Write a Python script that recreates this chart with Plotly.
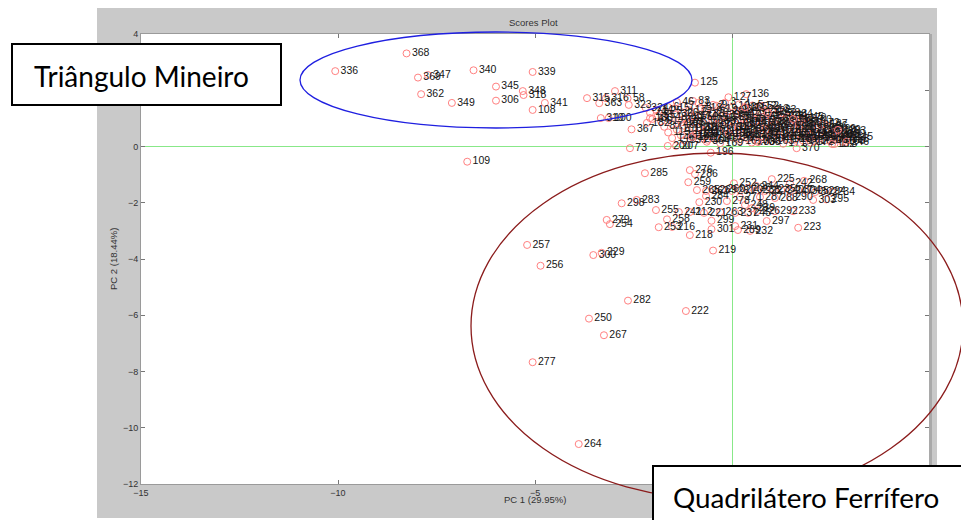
import plotly.graph_objects as go

# ---- Triângulo Mineiro / upper-left and named upper points ----
tm_x = [-8.26, -10.07, -7.97, -7.72, -6.56, -7.89, -7.11, -5.99, -5.99, -5.06, -5.31, -5.29,
        -5.06, -4.75, -6.72, -2.97, -3.68, -3.20, -3.37, -2.65, -2.62, -2.19, -3.33, -3.13,
        -2.55, -2.59, -1.63, -1.42, -1.02, -0.64, -0.54, -0.94, -0.09, 0.36, -1.40, -0.99,
        0.33, 0.76, 0.91, 1.55, 2.69, 2.90, 2.54, 1.64, 0.66, -2.08, -2.16]
tm_y = [3.31, 2.68, 2.45, 2.54, 2.71, 1.86, 1.55, 2.13, 1.63, 2.65, 1.97, 1.83,
        1.30, 1.55, -0.54, 1.97, 1.72, 1.72, 1.54, 1.71, 1.48, 1.37, 1.01, 1.01,
        0.61, -0.06, 0.02, 0.02, 0.34, 0.17, -0.22, 2.27, 1.75, 1.86, 1.58, 1.62,
        1.40, 1.44, 1.19, 0.98, 0.59, 0.16, 0.09, -0.06, 0.16, 1.01, 0.84]
tm_id = ["368", "336", "369", "347", "340", "362", "349", "345", "306", "339", "348", "318",
         "108", "341", "109", "311", "315", "316", "363", "58", "323", "324", "310", "100",
         "367", "73", "200", "207", "152", "364", "196", "125", "127", "136", "46", "83",
         "365", "52", "175", "16", "129", "246", "132", "370", "338", "180", "182"]

# ---- dense central cluster ----
core_x = [-0.85, -0.48, -0.18, 0.18, 0.52,
          -1.62, -1.22, -0.80, -0.40, 0.02, 0.32, 0.70, 1.02,
          -1.92, -1.50, -1.08, -0.68, -0.30, 0.10, 0.42, 0.80, 1.20,
          -2.08, -1.70, -1.28, -0.92, -0.52, -0.12, 0.22, 0.58, 0.92, 1.30, 1.62,
          -1.88, -1.42, -1.02, -0.62, -0.22, 0.12, 0.48, 0.82, 1.12, 1.48, 1.90,
          -2.02, -1.58, -1.18, -0.78, -0.38, 0.02, 0.30, 0.68, 1.00, 1.38, 1.72, 2.10,
          -1.80, -1.32, -0.92, -0.50, -0.10, 0.22, 0.60, 0.90, 1.22, 1.60, 1.92, 2.30,
          -1.52, -1.10, -0.70, -0.30, 0.08, 0.40, 0.78, 1.10, 1.48, 1.80, 2.18, 2.50,
          -1.72, -1.22, -0.82, -0.42, -0.02, 0.30, 0.68, 1.00, 1.32, 1.70, 2.02, 2.40, 2.72,
          -1.40, -1.00, -0.60, -0.20, 0.18, 0.50, 0.88, 1.20, 1.58, 1.90, 2.28, 2.60,
          -1.62, -1.12, -0.72, -0.32, 0.10, 0.40, 0.80, 1.10, 1.50, 1.80, 2.12, 2.50, 2.80,
          -1.30, -0.90, -0.50, -0.10, 0.28, 0.60, 1.00, 1.40, 1.70, 2.00, 2.40, 2.70, 3.00,
          -1.52, -1.00, -0.42, 0.00, 0.40, 0.80, 1.20, 1.60, 1.90, 2.20, 2.60, 2.90,
          -1.22, -0.62, 0.20, 0.60, 1.00, 1.40, 1.80, 2.10, 2.50, 2.80,
          -0.30, 0.50, 1.30, 2.00, 2.60,
          -0.95, -0.15, 0.62, 1.25, 1.82,
          -1.28, -0.48, 0.30, 1.02, 1.70, 2.35,
          -0.80, 0.02, 0.80, 1.48, 2.15, 2.82,
          -0.92, -0.08, 0.62, 1.32, 1.98, 2.62,
          -0.85, 0.12, 0.88, 1.58, 2.35]
core_y = [1.55, 1.48, 1.56, 1.50, 1.46,
          1.40, 1.44, 1.38, 1.45, 1.41, 1.36, 1.43, 1.33,
          1.30, 1.34, 1.29, 1.35, 1.31, 1.28, 1.34, 1.27, 1.30,
          1.20, 1.24, 1.18, 1.23, 1.19, 1.25, 1.21, 1.17, 1.24, 1.18, 1.15,
          1.10, 1.14, 1.08, 1.13, 1.09, 1.15, 1.11, 1.07, 1.13, 1.09, 1.03,
          0.98, 1.03, 0.99, 1.04, 1.00, 1.05, 0.97, 1.02, 0.98, 1.03, 0.95, 0.93,
          0.90, 0.94, 0.89, 0.93, 0.88, 0.95, 0.91, 0.87, 0.93, 0.89, 0.86, 0.82,
          0.80, 0.84, 0.79, 0.83, 0.78, 0.85, 0.81, 0.77, 0.82, 0.78, 0.76, 0.72,
          0.70, 0.74, 0.69, 0.73, 0.68, 0.75, 0.71, 0.67, 0.72, 0.68, 0.66, 0.63, 0.60,
          0.60, 0.64, 0.59, 0.63, 0.58, 0.65, 0.61, 0.57, 0.62, 0.58, 0.56, 0.53,
          0.50, 0.54, 0.49, 0.53, 0.48, 0.55, 0.51, 0.47, 0.52, 0.48, 0.46, 0.44, 0.42,
          0.40, 0.44, 0.39, 0.43, 0.38, 0.45, 0.41, 0.37, 0.42, 0.38, 0.36, 0.34, 0.33,
          0.30, 0.34, 0.29, 0.33, 0.28, 0.35, 0.31, 0.27, 0.32, 0.28, 0.26, 0.24,
          0.22, 0.24, 0.19, 0.23, 0.20, 0.25, 0.21, 0.18, 0.22, 0.17,
          0.12, 0.14, 0.10, 0.13, 0.09,
          1.06, 1.08, 1.05, 1.07, 0.99,
          0.86, 0.88, 0.84, 0.87, 0.83, 0.77,
          0.66, 0.68, 0.64, 0.67, 0.61, 0.55,
          0.46, 0.48, 0.44, 0.47, 0.41, 0.38,
          0.26, 0.28, 0.25, 0.24, 0.21]
core_id = [1, 2, 3, 4, 5, 6, 7, 8, 9, 10, 11, 12, 13, 14, 15, 17, 18, 19, 20, 21,
           22, 23, 24, 25, 26, 27, 28, 29, 30, 31, 32, 33, 34, 35, 36, 37, 38, 39, 40, 41,
           42, 43, 44, 45, 47, 48, 49, 50, 51, 53, 54, 55, 56, 57, 59, 60, 61, 62, 63, 64,
           65, 66, 67, 68, 69, 70, 71, 72, 74, 75, 76, 77, 78, 79, 80, 81, 82, 84, 85, 86,
           87, 88, 89, 90, 91, 92, 93, 94, 95, 96, 97, 98, 99, 101, 102, 103, 104, 105, 106, 107,
           110, 111, 112, 113, 114, 115, 116, 117, 118, 119, 120, 121, 122, 123, 124, 126, 128, 130, 131, 133,
           134, 135, 137, 138, 139, 140, 141, 142, 143, 144, 145, 146, 147, 148, 149, 150, 151, 153, 154, 155,
           156, 157, 158, 159, 160, 161, 162, 163, 164, 165, 166, 167, 168, 169, 170, 171, 172, 173,
           174, 176, 177, 178, 179, 181, 183, 184, 185, 186, 187, 188, 189, 190, 191, 192, 193, 194,
           195, 197, 198, 199, 201, 202, 203, 204, 205, 206]

# ---- Quadrilátero Ferrífero (lower group) ----
qf_x = [-2.21, -1.07, -0.94, -1.11, 1.01, 1.47, 1.83, 0.05, 0.61, 2.06, -0.83, -2.80, -2.42,
        -1.93, -1.35, -0.71, -1.07, -1.65, -1.86, -1.52, -1.07, -0.52, -0.52, -0.30, 0.08,
        0.41, 0.64, 1.09, 1.55, 0.88, 1.68, 0.08, 0.15, 0.46, -0.48, -3.18, -3.10, -3.52,
        -3.31, -5.20, -4.86, -2.64, -1.17, -3.63, -3.25, -5.06, -3.89, -0.13, 0.33, 0.51,
        -0.89, -0.66, -0.46, -0.25, 0.00, 0.20, 0.41, 0.64, 0.84, 1.04, 1.25, 1.47, 1.68,
        1.88, 2.11, 2.31, 2.54, -0.66, 0.20, 0.71, 1.09, 1.47, 2.39]
qf_y = [-0.95, -0.84, -0.98, -1.27, -1.16, -1.31, -1.22, -1.31, -1.40, -1.90, -1.98, -2.02, -1.90,
        -2.26, -2.33, -2.36, -2.33, -2.59, -2.87, -2.86, -3.15, -2.64, -2.94, -2.33, -2.36,
        -2.36, -2.29, -2.30, -2.30, -2.65, -2.89, -2.83, -2.97, -3.00, -3.70, -2.61, -2.76, -3.86,
        -3.78, -3.50, -4.24, -5.48, -5.85, -6.12, -6.71, -7.67, -10.58, -1.94, -2.08, -2.19,
        -1.55, -1.58, -1.55, -1.51, -1.58, -1.55, -1.48, -1.55, -1.58, -1.51, -1.55, -1.58, -1.55,
        -1.58, -1.62, -1.58, -1.62, -1.76, -1.80, -1.80, -1.83, -1.80, -1.88]
qf_id = ["285", "276", "286", "259", "225", "242", "268", "252", "244", "303", "230", "298", "283",
         "255", "241", "221", "212", "258", "253", "216", "218", "299", "301", "263", "237",
         "245", "226", "292", "233", "297", "223", "231", "289", "232", "219", "279", "254", "300",
         "229", "257", "256", "282", "222", "250", "267", "277", "264", "278", "248", "239",
         "265", "262", "269", "260", "281", "270", "236", "238", "227", "235", "240", "247", "304",
         "305", "302", "294", "234", "284", "271", "287", "288", "290", "295"]

x_ticks = [-15, -10, -5, 0, 5]
y_ticks = [4, 2, 0, -2, -4, -6, -8, -10, -12]

MARK = "#ff8080"
LBL = "#151515"

fig = go.Figure()
for xs, ys, ids in [(core_x, core_y, [str(v) for v in core_id]),
                    (tm_x, tm_y, tm_id), (qf_x, qf_y, qf_id)]:
    fig.add_trace(go.Scatter(
        x=xs, y=ys, text=ids, mode="markers+text",
        textposition="middle right",
        textfont=dict(family="Liberation Sans, Arial", size=10.5, color=LBL),
        marker=dict(symbol="circle-open", size=7, color=MARK, line=dict(width=1, color=MARK)),
        showlegend=False, hoverinfo="skip"))

# page body has an 8px margin: figure starts at screen (8, 8)
OFF = 8
W, H = 961, 512
L, R, T, B = 133, 40, 26, 36
PW, PH = W - L - R, H - T - B


def px(sx):
    return (sx - OFF - L) / PW


def py(sy):
    return (H - B - (sy - OFF)) / PH


shapes = []
# white margins outside the grey figure area (screen coordinates)
for x0, x1, y0, y1 in [(0, 97, 0, 540), (937, 990, 0, 540), (0, 990, 518, 540)]:
    shapes.append(dict(type="rect", xref="paper", yref="paper", x0=px(x0), x1=px(x1),
                       y0=py(y1), y1=py(y0), fillcolor="white", line=dict(width=0), layer="below"))
# right box shadow
shapes.append(dict(type="rect", xref="paper", yref="paper", x0=px(929), x1=px(932),
                   y0=py(484), y1=py(34), fillcolor="#a9a9a9", line=dict(width=0), layer="above"))
# ellipses
shapes.append(dict(type="circle", xref="paper", yref="paper", x0=px(300), x1=px(692),
                   y0=py(128), y1=py(32), line=dict(color="#1f1fe0", width=1.3), layer="above"))
shapes.append(dict(type="circle", xref="paper", yref="paper", x0=px(471), x1=px(963),
                   y0=py(499), y1=py(153), line=dict(color="#8b1c1c", width=1.3), layer="above"))
# text boxes
shapes.append(dict(type="rect", xref="paper", yref="paper", x0=px(12), x1=px(281),
                   y0=py(105), y1=py(44), fillcolor="white", line=dict(color="black", width=2),
                   layer="above"))
shapes.append(dict(type="rect", xref="paper", yref="paper", x0=px(653), x1=px(995),
                   y0=py(545), y1=py(466), fillcolor="white", line=dict(color="black", width=2),
                   layer="above"))

ann = [
    dict(text="Scores Plot", x=px(533), y=py(23), font=dict(size=9.5, color="#333")),
    dict(text="PC 1 (29.95%)", x=px(535), y=py(499), font=dict(size=9.5, color="#333")),
    dict(text="PC 2 (18.44%)", x=px(113), y=py(259), textangle=-90, font=dict(size=9.5, color="#333")),
    dict(text="Triângulo Mineiro", x=px(141), y=py(76),
         font=dict(family="Lato", size=28, color="black")),
    dict(text="Quadrilátero Ferrífero", x=px(806), y=py(497),
         font=dict(family="Lato", size=27.8, color="black")),
]
for a in ann:
    a.update(xref="paper", yref="paper", showarrow=False, xanchor="center", yanchor="middle")
    a["font"].setdefault("family", "Liberation Sans, Arial")

axis_common = dict(ticks="inside", ticklen=4, tickcolor="#777", showline=True,
                   linecolor="#9a9a9a", linewidth=1, mirror="ticks", showgrid=False,
                   zeroline=True, zerolinecolor="#88e888", zerolinewidth=1,
                   tickfont=dict(family="Liberation Sans, Arial", size=9, color="#333"),
                   automargin=False)

fig.update_layout(
    width=W, height=H, margin=dict(l=L, r=R, t=T, b=B),
    paper_bgcolor="#c9c9c9", plot_bgcolor="white",
    xaxis=dict(range=[-15, 5], tickvals=x_ticks, **axis_common),
    yaxis=dict(range=[-12, 4], tickvals=y_ticks, **axis_common),
    shapes=shapes, annotations=ann,
)

fig.write_html("out.html")
